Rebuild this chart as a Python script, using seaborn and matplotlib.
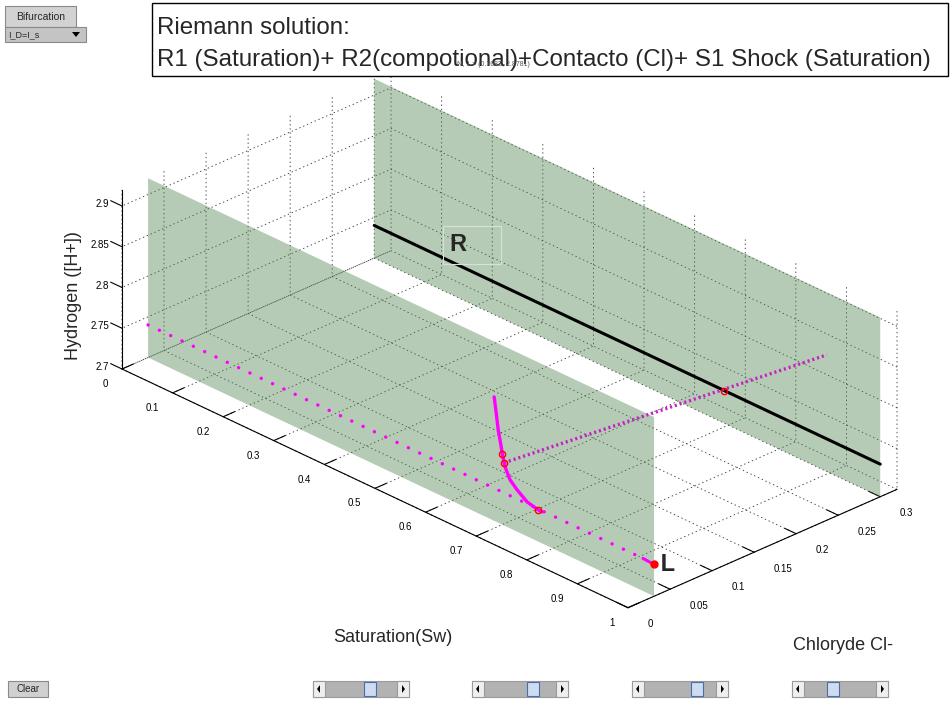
import matplotlib
matplotlib.use("Agg")
import numpy as np
import matplotlib.pyplot as plt
import seaborn as sns
from matplotlib.patches import Rectangle, Polygon
from mpl_toolkits.mplot3d import proj3d
from mpl_toolkits.mplot3d.art3d import Poly3DCollection

W, H = 952, 703

sns.set_theme(style="white")
plt.rcParams["font.family"] = ["Liberation Sans", "DejaVu Sans"]
plt.rcParams["lines.scale_dashes"] = False
if "axes3d.automargin" in plt.rcParams:
    plt.rcParams["axes3d.automargin"] = False

# ---- axis ranges and ticks -------------------------------------------------
sw_lim = [0.0, 1.0]
cl_lim = [0.0, 0.32]
h_lim = [2.7, 2.92]
sw_ticks = [0.0, 0.1, 0.2, 0.3, 0.4, 0.5, 0.6, 0.7, 0.8, 0.9, 1.0]
sw_ticklabels = ["0", "0.1", "0.2", "0.3", "0.4", "0.5", "0.6", "0.7", "0.8", "0.9", "1"]
cl_ticks = [0.0, 0.05, 0.10, 0.15, 0.20, 0.25, 0.30]
cl_ticklabels = ["0", "0.05", "0.1", "0.15", "0.2", "0.25", "0.3"]
h_ticks = [2.70, 2.75, 2.80, 2.85, 2.90]
h_ticklabels = ["2.7", "2.75", "2.8", "2.85", "2.9"]

# ---- constant-chloride planes (left state / right state) -------------------
plane_cl = [0.031, 0.30]

# ---- saturation curve through the left state (dotted) ----------------------
sat_sw = [0.0, 0.978]
sat_cl = [0.031, 0.031]
sat_h = [2.740, 2.740]

# ---- S1 shock segment ending at L -----------------------------------------
shock_sw = [0.978, 1.0]
shock_cl = [0.031, 0.031]
shock_h = [2.740, 2.739]

# ---- left state L ----------------------------------------------------------
L_sw, L_cl, L_h = 1.0, 0.031, 2.739

# ---- R1 / R2 rarefaction curve ---------------------------------------------
wave_sw = [0.684, 0.688, 0.692, 0.698, 0.700, 0.7055, 0.7154, 0.7292, 0.749, 0.7708, 0.7787]
wave_cl = [0.031] * len(wave_sw)
wave_h = [2.852, 2.8336, 2.8139, 2.7947, 2.7868, 2.7725, 2.7595, 2.7513, 2.7423, 2.7389, 2.7388]

# ---- contact discontinuity in Cl -------------------------------------------
contact_sw = [0.7036, 0.6866]
contact_cl = [0.031, 0.425]
contact_h = [2.777, 2.7255]

# ---- right-state saturation line -------------------------------------------
rline_sw = [0.0, 1.0]
rline_cl = [0.30, 0.30]
rline_h = [2.740, 2.740]
R_sw, R_cl, R_h = 0.15, 0.30, 2.760

# ---- wave junctions ---------------------------------------------------------
junc_sw = [0.700, 0.7036, 0.7708, 0.692]
junc_cl = [0.031, 0.031, 0.031, 0.30]
junc_h = [2.787, 2.777, 2.739, 2.740]

MAG = "#ff00ff"
CONTACT = "#c81ec8"
PLANE = (0.31, 0.52, 0.31, 0.42)

fig = plt.figure(figsize=(W / 100, H / 100), dpi=100)
fig.patch.set_facecolor("white")
ax = fig.add_axes([0, 0, 1, 1], projection="3d", computed_zorder=False)
ax.set_proj_type("ortho")
ax.view_init(elev=27.1, azim=-44.0)
ax.set_box_aspect((728.4, 374.0, 201.4))
ax.set_xlim(*sw_lim)
ax.set_ylim(*cl_lim)
ax.set_zlim(*h_lim)
ax.set_xticks(sw_ticks, sw_ticklabels)
ax.set_yticks(cl_ticks, cl_ticklabels)
ax.set_zticks(h_ticks, h_ticklabels)
ax.grid(True)
ax.tick_params(labelsize=7, colors="black")
ax.tick_params(axis="x", pad=7.5)
ax.tick_params(axis="y", pad=4)
ax.tick_params(axis="z", pad=-3)

# MATLAB-like vertical axis at the front-left corner, ticks along the Sw direction
ax.zaxis.set_ticks_position("lower")
ax.zaxis._get_tickdir = lambda position: 0

out_fac = {"x": 0.53, "y": 0.28, "z": 0.28}
for name, axis in (("x", ax.xaxis), ("y", ax.yaxis), ("z", ax.zaxis)):
    axis.set_pane_color((1, 1, 1, 0))
    axis.pane.set_edgecolor((1, 1, 1, 0))
    axis.line.set_color("black")
    axis.line.set_linewidth(0.8)
    axis.label.set_visible(False)
    axis.get_offset_text().set_visible(False)
    axis._axinfo["grid"].update(color="#333333", linewidth=0.6, linestyle=(0, (1, 2)))
    axis._axinfo["tick"].update(inward_factor=0.0, outward_factor=out_fac[name])
    axis._axinfo["tick"]["linewidth"] = {True: 0.8, False: 0.5}

align = {"x": ("right", "center"), "y": ("left", "center"), "z": ("right", "center")}
for name, axis in (("x", ax.xaxis), ("y", ax.yaxis), ("z", ax.zaxis)):
    for lab in axis.get_majorticklabels():
        lab.set_horizontalalignment(align[name][0])
        lab.set_verticalalignment(align[name][1])

# planes
for cl in plane_cl:
    verts = [[(sw_lim[0], cl, h_lim[0]), (sw_lim[1], cl, h_lim[0]),
              (sw_lim[1], cl, h_lim[1]), (sw_lim[0], cl, h_lim[1])]]
    ax.add_collection3d(Poly3DCollection(verts, facecolor=PLANE, edgecolor="none", zorder=1))

# curves
ax.plot(rline_sw, rline_cl, rline_h, color="black", lw=2.2, zorder=3)
ax.plot(sat_sw, sat_cl, sat_h, color=MAG, lw=2.5, ls=(0, (0.01, 9.0)),
        dash_capstyle="round", zorder=3)
ax.plot(shock_sw, shock_cl, shock_h, color=MAG, lw=2.2, zorder=4)
ax.plot(contact_sw, contact_cl, contact_h, color=CONTACT, lw=2.4, ls=(0, (1.5, 2.1)), zorder=4)
ax.plot(wave_sw, wave_cl, wave_h, color=MAG, lw=2.4, zorder=5)
ax.plot(junc_sw, junc_cl, junc_h, ls="none", marker="o", ms=4.5, mfc="none",
        mec="red", mew=1.0, zorder=6)
ax.plot([L_sw], [L_cl], [L_h], ls="none", marker="o", ms=5, color="red", zorder=6)

ax.text(L_sw, L_cl, L_h, " L", fontsize=17, fontweight="bold", ha="left", va="center", zorder=7)
ax.text(R_sw, R_cl, R_h, "R    ", fontsize=17, fontweight="bold", ha="left", va="center",
        bbox=dict(boxstyle="square,pad=0.3", fc="none", ec="#d8e0d8", lw=0.8), zorder=7)


def project(x, y, z):
    xs, ys, _ = proj3d.proj_transform(np.atleast_1d(x), np.atleast_1d(y), np.atleast_1d(z), ax.get_proj())
    return ax.transData.transform(np.column_stack([xs, ys]))[0]


# place the box so its front corner and far corner sit where wanted
A_t = np.array([122.0, H - 369.0])
B_t = np.array([897.0, H - 489.6])
fig.canvas.draw()
for _ in range(3):
    a = project(sw_lim[0], cl_lim[0], h_lim[0])
    b = project(sw_lim[1], cl_lim[1], h_lim[0])
    bb = ax.get_position(original=False)
    ll = np.array([bb.x0 * W, bb.y0 * H])
    side = bb.width * W
    f = np.hypot(*(B_t - A_t)) / np.hypot(*(b - a))
    u = (a - ll) / side
    side1 = side * f
    ll1 = A_t - side1 * u
    ax.set_position([ll1[0] / W, ll1[1] / H, side1 / W, side1 / H])
    fig.canvas.draw()


def fx(px):
    return px / W


def fy(py):
    return 1 - py / H


# axis titles
fig.text(fx(73), fy(296), "Hydrogen ([H+])", rotation=90, fontsize=13, ha="center", va="center")
fig.text(fx(393), fy(637), "Saturation(Sw)", fontsize=13, ha="center", va="center")
fig.text(fx(843), fy(645), "Chloryde Cl-", fontsize=13, ha="center", va="center")

# title box
fig.add_artist(Rectangle((fx(152), fy(76)), (948 - 152) / W, (76 - 3) / H, transform=fig.transFigure,
                         fc="white", ec="black", lw=1.0, zorder=10))
fig.text(fx(157), fy(34), "Riemann solution:", fontsize=17.4, va="baseline", zorder=11)
fig.text(fx(157), fy(66), "R1 (Saturation)+ R2(compotional)+Contacto (Cl)+ S1 Shock (Saturation)",
         fontsize=17.4, va="baseline", zorder=11)
fig.text(fx(457), fy(64), "N, 1 = (0.7683, 2.8781)", fontsize=5, color="#555555", va="center", zorder=12)


def box(x0, y0, x1, y1, fc, ec="#8a8a8a", lw=0.8, z=10):
    fig.add_artist(Rectangle((fx(x0), fy(y1)), (x1 - x0) / W, (y1 - y0) / H,
                             transform=fig.transFigure, fc=fc, ec=ec, lw=lw, zorder=z))


def tri(pts, z=12):
    fig.add_artist(Polygon([(fx(p), fy(q)) for p, q in pts], closed=True,
                           transform=fig.transFigure, fc="black", ec="none", zorder=z))


# top-left controls
box(5, 6, 76, 27, "#d2d2d2")
fig.text(fx(40.5), fy(16.5), "Bifurcation", fontsize=7.5, ha="center", va="center", zorder=12)
box(5, 27, 86, 42, "#c4c4c4")
fig.text(fx(8), fy(34.5), "I_D=I_s", fontsize=6.5, ha="left", va="center", zorder=12)
tri([(72, 32), (80, 32), (76, 37)])

# bottom controls
box(8, 681, 48, 697, "#d0d0d0")
fig.text(fx(28), fy(689), "Clear", fontsize=7, ha="center", va="center", zorder=12)
for x0, thumb in ((313, 370), (472, 533), (632, 697), (792, 833)):
    x1 = x0 + 96
    box(x0, 681, x1, 697, "#b2b2b2", ec="#9a9a9a")
    box(x0, 681, x0 + 12, 697, "#eeeeee", ec="#9a9a9a")
    box(x1 - 12, 681, x1, 697, "#eeeeee", ec="#9a9a9a")
    tri([(x0 + 4, 689), (x0 + 7, 685), (x0 + 7, 693)])
    tri([(x1 - 4, 689), (x1 - 7, 685), (x1 - 7, 693)])
    box(thumb - 6, 682, thumb + 6, 696, "#cddcf0", ec="#4a6ea8", z=11)

fig.savefig("out.png", dpi=100)
